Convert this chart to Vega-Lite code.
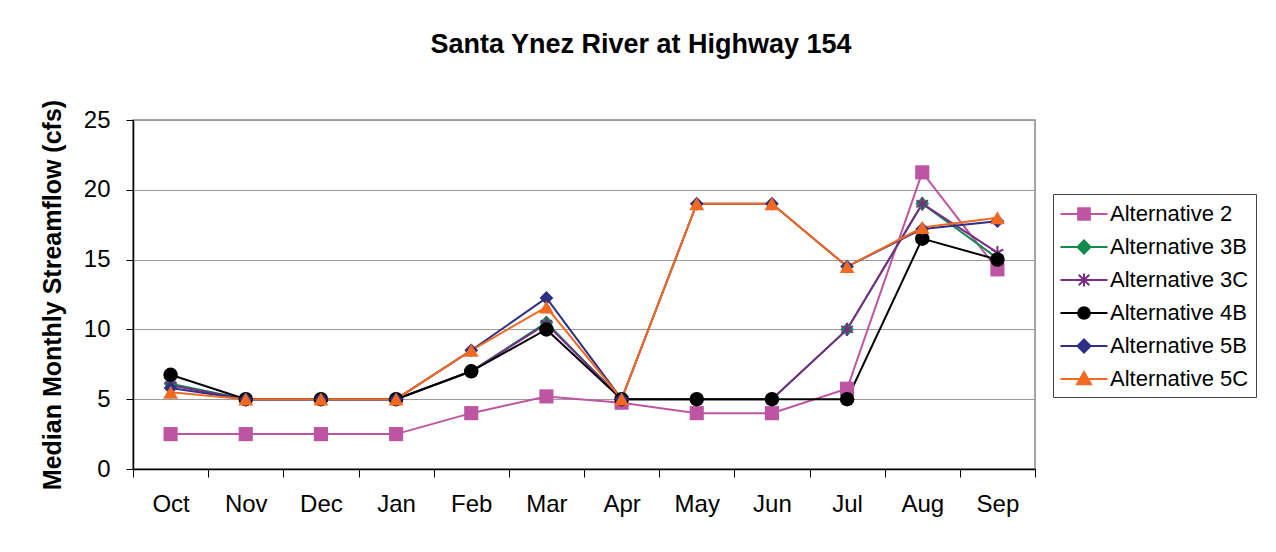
{
  "$schema": "https://vega.github.io/schema/vega-lite/v6.json",
  "width": 902,
  "height": 349,
  "autosize": "none",
  "padding": {"left": 133, "top": 120, "right": 241, "bottom": 83},
  "background": "white",
  "title": {
    "text": "Santa Ynez River at Highway 154",
    "font": "Liberation Sans",
    "fontSize": 27,
    "fontWeight": "bold",
    "color": "black",
    "anchor": "middle",
    "dx": 57,
    "offset": 40
  },
  "data": {
    "values": [
      {"month": "Oct", "series": "Alternative 2", "value": 2.5},
      {"month": "Nov", "series": "Alternative 2", "value": 2.5},
      {"month": "Dec", "series": "Alternative 2", "value": 2.5},
      {"month": "Jan", "series": "Alternative 2", "value": 2.5},
      {"month": "Feb", "series": "Alternative 2", "value": 4.0},
      {"month": "Mar", "series": "Alternative 2", "value": 5.2},
      {"month": "Apr", "series": "Alternative 2", "value": 4.75},
      {"month": "May", "series": "Alternative 2", "value": 4.0},
      {"month": "Jun", "series": "Alternative 2", "value": 4.0},
      {"month": "Jul", "series": "Alternative 2", "value": 5.75},
      {"month": "Aug", "series": "Alternative 2", "value": 21.25},
      {"month": "Sep", "series": "Alternative 2", "value": 14.3},

      {"month": "Oct", "series": "Alternative 3B", "value": 6.1},
      {"month": "Nov", "series": "Alternative 3B", "value": 5.0},
      {"month": "Dec", "series": "Alternative 3B", "value": 5.0},
      {"month": "Jan", "series": "Alternative 3B", "value": 5.0},
      {"month": "Feb", "series": "Alternative 3B", "value": 7.0},
      {"month": "Mar", "series": "Alternative 3B", "value": 10.5},
      {"month": "Apr", "series": "Alternative 3B", "value": 5.0},
      {"month": "May", "series": "Alternative 3B", "value": 5.0},
      {"month": "Jun", "series": "Alternative 3B", "value": 5.0},
      {"month": "Jul", "series": "Alternative 3B", "value": 10.0},
      {"month": "Aug", "series": "Alternative 3B", "value": 19.0},
      {"month": "Sep", "series": "Alternative 3B", "value": 15.1},

      {"month": "Oct", "series": "Alternative 3C", "value": 6.0},
      {"month": "Nov", "series": "Alternative 3C", "value": 5.0},
      {"month": "Dec", "series": "Alternative 3C", "value": 5.0},
      {"month": "Jan", "series": "Alternative 3C", "value": 5.0},
      {"month": "Feb", "series": "Alternative 3C", "value": 7.0},
      {"month": "Mar", "series": "Alternative 3C", "value": 10.4},
      {"month": "Apr", "series": "Alternative 3C", "value": 5.0},
      {"month": "May", "series": "Alternative 3C", "value": 5.0},
      {"month": "Jun", "series": "Alternative 3C", "value": 5.0},
      {"month": "Jul", "series": "Alternative 3C", "value": 10.0},
      {"month": "Aug", "series": "Alternative 3C", "value": 19.0},
      {"month": "Sep", "series": "Alternative 3C", "value": 15.5},

      {"month": "Oct", "series": "Alternative 4B", "value": 6.75},
      {"month": "Nov", "series": "Alternative 4B", "value": 5.0},
      {"month": "Dec", "series": "Alternative 4B", "value": 5.0},
      {"month": "Jan", "series": "Alternative 4B", "value": 5.0},
      {"month": "Feb", "series": "Alternative 4B", "value": 7.0},
      {"month": "Mar", "series": "Alternative 4B", "value": 10.0},
      {"month": "Apr", "series": "Alternative 4B", "value": 5.0},
      {"month": "May", "series": "Alternative 4B", "value": 5.0},
      {"month": "Jun", "series": "Alternative 4B", "value": 5.0},
      {"month": "Jul", "series": "Alternative 4B", "value": 5.0},
      {"month": "Aug", "series": "Alternative 4B", "value": 16.5},
      {"month": "Sep", "series": "Alternative 4B", "value": 15.0},

      {"month": "Oct", "series": "Alternative 5B", "value": 5.8},
      {"month": "Nov", "series": "Alternative 5B", "value": 5.0},
      {"month": "Dec", "series": "Alternative 5B", "value": 5.0},
      {"month": "Jan", "series": "Alternative 5B", "value": 5.0},
      {"month": "Feb", "series": "Alternative 5B", "value": 8.5},
      {"month": "Mar", "series": "Alternative 5B", "value": 12.25},
      {"month": "Apr", "series": "Alternative 5B", "value": 5.0},
      {"month": "May", "series": "Alternative 5B", "value": 19.0},
      {"month": "Jun", "series": "Alternative 5B", "value": 19.0},
      {"month": "Jul", "series": "Alternative 5B", "value": 14.5},
      {"month": "Aug", "series": "Alternative 5B", "value": 17.2},
      {"month": "Sep", "series": "Alternative 5B", "value": 17.75},

      {"month": "Oct", "series": "Alternative 5C", "value": 5.5},
      {"month": "Nov", "series": "Alternative 5C", "value": 5.0},
      {"month": "Dec", "series": "Alternative 5C", "value": 5.0},
      {"month": "Jan", "series": "Alternative 5C", "value": 5.0},
      {"month": "Feb", "series": "Alternative 5C", "value": 8.5},
      {"month": "Mar", "series": "Alternative 5C", "value": 11.6},
      {"month": "Apr", "series": "Alternative 5C", "value": 5.0},
      {"month": "May", "series": "Alternative 5C", "value": 19.0},
      {"month": "Jun", "series": "Alternative 5C", "value": 19.0},
      {"month": "Jul", "series": "Alternative 5C", "value": 14.5},
      {"month": "Aug", "series": "Alternative 5C", "value": 17.3},
      {"month": "Sep", "series": "Alternative 5C", "value": 18.0}
    ]
  },
  "encoding": {
    "x": {
      "field": "month",
      "type": "nominal",
      "sort": ["Oct", "Nov", "Dec", "Jan", "Feb", "Mar", "Apr", "May", "Jun", "Jul", "Aug", "Sep"],
      "scale": {"paddingInner": 0, "paddingOuter": 0},
      "axis": {
        "title": null,
        "labelAngle": 0,
        "labelFont": "Liberation Sans",
        "labelFontSize": 24,
        "labelColor": "black",
        "labelPadding": 15,
        "tickBand": "extent",
        "tickSize": 8,
        "tickColor": "black",
        "domainColor": "black",
        "domainWidth": 1.5,
        "grid": false
      }
    },
    "y": {
      "field": "value",
      "type": "quantitative",
      "scale": {"domain": [0, 25], "nice": false},
      "axis": {
        "title": "Median Monthly Streamflow (cfs)",
        "titleFont": "Liberation Sans",
        "titleFontSize": 25,
        "titleFontWeight": "bold",
        "titleColor": "black",
        "titlePadding": 18,
        "values": [0, 5, 10, 15, 20, 25],
        "labelFont": "Liberation Sans",
        "labelFontSize": 24,
        "labelColor": "black",
        "labelPadding": 16,
        "tickSize": 7,
        "tickColor": "black",
        "domainColor": "black",
        "domainWidth": 1.5,
        "grid": true,
        "gridColor": "#9a9a9a",
        "gridWidth": 1.2
      }
    },
    "color": {
      "field": "series",
      "type": "nominal",
      "title": null,
      "scale": {
        "domain": ["Alternative 2", "Alternative 3B", "Alternative 3C", "Alternative 4B", "Alternative 5B", "Alternative 5C"],
        "range": ["#BE55A3", "#108B4B", "#7A2D87", "#000000", "#2D3084", "#F26A22"]
      }
    }
  },
  "layer": [
    {"mark": {"type": "line", "strokeWidth": 2}},
    {
      "transform": [{"filter": "datum.series === 'Alternative 2'"}],
      "mark": {"type": "point", "filled": true, "opacity": 1, "shape": "square", "size": 200}
    },
    {
      "transform": [{"filter": "datum.series === 'Alternative 3B'"}],
      "mark": {"type": "point", "filled": true, "opacity": 1, "shape": "diamond", "size": 190}
    },
    {
      "transform": [{"filter": "datum.series === 'Alternative 3C'"}],
      "mark": {"type": "point", "filled": false, "opacity": 1, "strokeWidth": 2, "shape": "M0,-1V1M-0.87,-0.5L0.87,0.5M-0.87,0.5L0.87,-0.5", "size": 180}
    },
    {
      "transform": [{"filter": "datum.series === 'Alternative 4B'"}],
      "mark": {"type": "point", "filled": true, "opacity": 1, "shape": "circle", "size": 210}
    },
    {
      "transform": [{"filter": "datum.series === 'Alternative 5B'"}],
      "mark": {"type": "point", "filled": true, "opacity": 1, "shape": "diamond", "size": 190}
    },
    {
      "transform": [{"filter": "datum.series === 'Alternative 5C'"}],
      "mark": {"type": "point", "filled": true, "opacity": 1, "shape": "triangle-up", "size": 220}
    },
    {
      "transform": [{"filter": "false"}],
      "mark": {"type": "point", "filled": true, "opacity": 1},
      "encoding": {
        "stroke": {
          "field": "series",
          "type": "nominal",
          "title": null,
          "scale": {
            "domain": ["Alternative 2", "Alternative 3B", "Alternative 3C", "Alternative 4B", "Alternative 5B", "Alternative 5C"],
            "range": ["#BE55A3", "#108B4B", "#7A2D87", "#000000", "#2D3084", "#F26A22"]
          }
        },
        "shape": {
          "field": "series",
          "type": "nominal",
          "title": null,
          "scale": {
            "domain": ["Alternative 2", "Alternative 3B", "Alternative 3C", "Alternative 4B", "Alternative 5B", "Alternative 5C"],
            "range": [
              "M-2,0H2M-0.5,-0.5H0.5V0.5H-0.5Z",
              "M-2,0H2M0,-0.55L0.55,0L0,0.55L-0.55,0Z",
              "M-2,0H2M-0.45,-0.45L0.45,0.45M-0.45,0.45L0.45,-0.45M0,-0.55V0.55",
              "M-2,0H2M-0.5,0A0.5,0.5,0,1,0,0.5,0A0.5,0.5,0,1,0,-0.5,0Z",
              "M-2,0H2M0,-0.55L0.55,0L0,0.55L-0.55,0Z",
              "M-2,0H2M0,-0.6L0.6,0.45L-0.6,0.45Z"
            ]
          }
        }
      }
    }
  ],
  "config": {
    "view": {"stroke": "#888888", "strokeWidth": 1.5},
    "font": "Liberation Sans",
    "legend": {
      "orient": "none",
      "legendX": 920,
      "legendY": 74,
      "padding": 7,
      "strokeColor": "#444444",
      "fillColor": "white",
      "symbolSize": 552,
      "symbolStrokeWidth": 2,
      "symbolOpacity": 1,
      "symbolOffset": 11,
      "labelFont": "Liberation Sans",
      "labelFontSize": 22,
      "labelColor": "black",
      "labelOffset": 13,
      "rowPadding": 9,
      "labelLimit": 300
    }
  }
}
